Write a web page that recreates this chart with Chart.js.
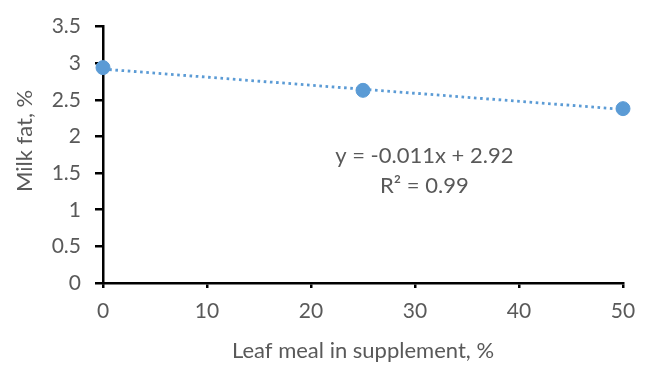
<!DOCTYPE html>
<html><head><meta charset="utf-8">
<script src="https://cdn.jsdelivr.net/npm/chart.js@4/dist/chart.umd.min.js"></script>
<style>html,body{margin:0;padding:0;background:#fff}#wrap{width:650px;height:367px}</style>
</head><body><div id="wrap"><canvas id="c" width="650" height="367"></canvas></div>
<script>
const leafMeal = [0, 25, 50];
const milkFat = [2.94, 2.63, 2.38];
const trendX = [0, 50];
const trendY = [2.92, 2.37];
const equationLines = ["y = -0.011x + 2.92", "R² = 0.99"];
const xTitle = "Leaf meal in supplement, %";
const yTitle = "Milk fat, %";

const FONT = "Lato, 'Open Sans', sans-serif";
const GREY = "#595959";
const BLUE = "#5B9BD5";

const textPlugin = {
  id: 'eq',
  afterDatasetsDraw(chart) {
    const ctx = chart.ctx;
    const xs = chart.scales.x, ys = chart.scales.y;
    ctx.save();
    ctx.fillStyle = GREY;
    ctx.font = "22px " + FONT;
    ctx.textAlign = "center";
    ctx.textBaseline = "middle";
    ctx.fillText(equationLines[0], xs.getPixelForValue(30.9), ys.getPixelForValue(1.73));
    ctx.fillText(equationLines[1], xs.getPixelForValue(30.9), ys.getPixelForValue(1.33));
    // y axis title
    ctx.translate(25, ys.getPixelForValue(1.94));
    ctx.rotate(-Math.PI / 2);
    ctx.fillText(yTitle, 0, 0);
    ctx.restore();
  }
};

new Chart(document.getElementById('c'), {
  type: 'scatter',
  data: {
    datasets: [
      {
        data: trendX.map((x, i) => ({x, y: trendY[i]})),
        showLine: true,
        borderColor: BLUE,
        borderWidth: 2.8,
        borderDash: [2.6, 3.6],
        pointRadius: 0,
        clip: false
      },
      {
        data: leafMeal.map((x, i) => ({x, y: milkFat[i]})),
        backgroundColor: BLUE,
        borderColor: BLUE,
        pointRadius: 7,
        clip: false
      }
    ]
  },
  options: {
    responsive: false,
    animation: false,
    devicePixelRatio: 1,
    layout: {padding: {top: 20, right: 27, left: 0, bottom: 0}},
    plugins: {legend: {display: false}, tooltip: {enabled: false}},
    scales: {
      x: {
        type: 'linear', min: 0, max: 50,
        ticks: {stepSize: 10, color: GREY, font: {family: FONT, size: 21}, padding: 11, callback: v => String(v)},
        grid: {drawOnChartArea: false, drawTicks: true, tickLength: 5, color: '#000', lineWidth: 2.5},
        border: {color: '#000', width: 2.5},
        title: {display: true, text: xTitle, color: GREY, font: {family: FONT, size: 22}, padding: {top: 10, bottom: 3}},
        afterFit(s) { s.height = 84; }
      },
      y: {
        min: 0, max: 3.5,
        ticks: {stepSize: 0.5, color: GREY, font: {family: FONT, size: 21}, padding: 14, callback: v => String(v)},
        grid: {drawOnChartArea: false, drawTicks: true, tickLength: 8, color: '#000', lineWidth: 2.5},
        border: {color: '#000', width: 2.5},
        title: {display: false},
        afterFit(s) { s.width = 103; }
      }
    }
  },
  plugins: [textPlugin]
});
</script></body></html>
